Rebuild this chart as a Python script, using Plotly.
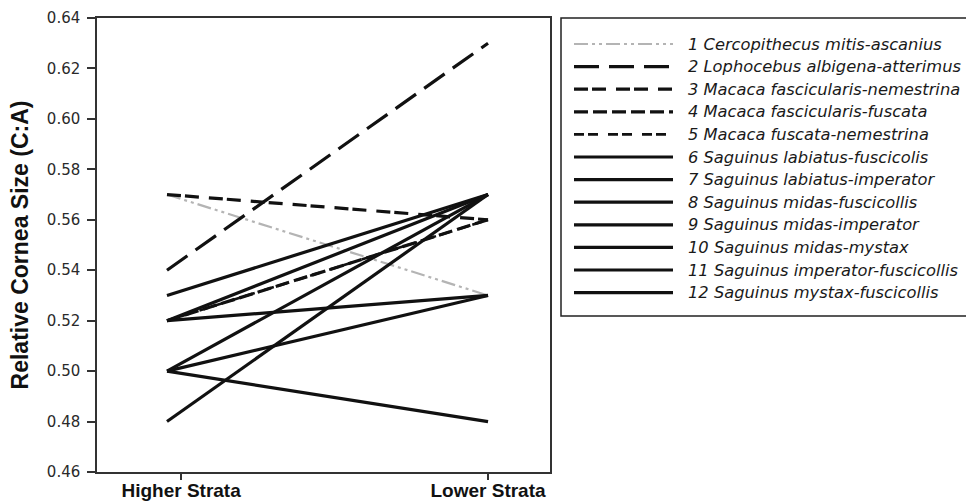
import plotly.graph_objects as go

categories = ["Higher Strata", "Lower Strata"]
names = [
    "1 Cercopithecus mitis-ascanius",
    "2 Lophocebus albigena-atterimus",
    "3 Macaca fascicularis-nemestrina",
    "4 Macaca fascicularis-fuscata",
    "5 Macaca fuscata-nemestrina",
    "6 Saguinus labiatus-fuscicolis",
    "7 Saguinus labiatus-imperator",
    "8 Saguinus midas-fuscicollis",
    "9 Saguinus midas-imperator",
    "10 Saguinus midas-mystax",
    "11 Saguinus imperator-fuscicollis",
    "12 Saguinus mystax-fuscicollis",
]
higher = [0.57, 0.54, 0.57, 0.52, 0.52, 0.53, 0.52, 0.52, 0.50, 0.50, 0.50, 0.48]
lower = [0.53, 0.63, 0.56, 0.56, 0.56, 0.57, 0.57, 0.53, 0.57, 0.53, 0.48, 0.57]
y_ticks = [0.46, 0.48, 0.50, 0.52, 0.54, 0.56, 0.58, 0.60, 0.62, 0.64]

styles = [
    dict(color="#b4b4b4", width=2.2, dash="14px,4px,3px,4px,3px,4px"),
    dict(color="#111111", width=3.2, dash="25px,10px"),
    dict(color="#111111", width=3.2, dash="14px,4px,14px,10px"),
    dict(color="#111111", width=3.2, dash="14px,5px"),
    dict(color="#111111", width=2.6, dash="10px,4px,10px,10px"),
] + [dict(color="#111111", width=3.2, dash="solid") for _ in range(7)]

W, H = 966, 504
L, R, T, B = 97, 0, 18, 32
pw, ph = W - L - R, H - T - B
plot_right = 550
leg_left, leg_bottom = 561, 316
sample_x0, sample_x1 = 574, 673
row0, row_step = 44, 22.6

fig = go.Figure()
xpos = list(range(len(categories)))
for name, h, l, st in zip(names, higher, lower, styles):
    fig.add_trace(go.Scatter(x=xpos, y=[h, l], mode="lines", name=name,
                             line=st, showlegend=False, xaxis="x", yaxis="y"))

# legend drawn on an auxiliary (hidden) axis pair
for i, (name, st) in enumerate(zip(names, styles)):
    fig.add_trace(go.Scatter(x=[0, 1], y=[i, i], mode="lines", line=st,
                             showlegend=False, hoverinfo="skip",
                             xaxis="x2", yaxis="y2"))
    fig.add_annotation(x=1, y=i, xref="x2", yref="y2", text=name,
                       showarrow=False, xanchor="left", yanchor="middle",
                       xshift=13,
                       font=dict(family="DejaVu Sans, sans-serif", size=16.3,
                                 style="italic", color="#1a1a1a"))

y2_top = (T - row0) / row_step
y2_bot = (T + ph - row0) / row_step

fig.add_shape(type="rect", xref="paper", yref="paper",
              x0=(leg_left - L) / pw, x1=1.01,
              y0=1 - (leg_bottom - T) / ph, y1=1.0,
              line=dict(color="#222", width=1.5), fillcolor="rgba(0,0,0,0)",
              layer="below")

fig.update_layout(
    width=W, height=H,
    margin=dict(l=L, r=R, t=T, b=B, autoexpand=False),
    paper_bgcolor="white", plot_bgcolor="white",
    font=dict(family="Liberation Sans, Arial, sans-serif", color="#222"),
    showlegend=False,
    xaxis=dict(
        domain=[0, (plot_right - L) / pw],
        range=[-0.218, 1.193], automargin=False,
        tickvals=[0.044, 1.0], ticktext=categories,
        ticks="outside", ticklen=6, tickwidth=1.5, tickcolor="#333",
        ticklabelstandoff=-6,
        showline=True, linecolor="#333", linewidth=1.5, mirror=True,
        showgrid=False, zeroline=False,
        tickfont=dict(family="Liberation Sans, Arial, sans-serif", size=19,
                      weight="bold", color="#111"),
    ),
    yaxis=dict(
        range=[0.46, 0.64], tickvals=y_ticks, tickformat=".2f",
        automargin=False,
        ticks="outside", ticklen=8, tickwidth=1.5, tickcolor="#333",
        ticklabelstandoff=4,
        showline=True, linecolor="#333", linewidth=1.5, mirror=True,
        showgrid=False, zeroline=False,
        tickfont=dict(family="DejaVu Sans, sans-serif", size=15, color="#2a2a2a"),
        title=dict(text="Relative Cornea Size (C:A)", standoff=12,
                   font=dict(family="Liberation Sans, Arial, sans-serif",
                             size=23, weight="bold", color="#111")),
    ),
    xaxis2=dict(domain=[(sample_x0 - L) / pw, (sample_x1 - L) / pw],
                range=[0, 1], visible=False, anchor="y2", fixedrange=True,
                automargin=False),
    yaxis2=dict(domain=[0, 1], range=[y2_bot, y2_top], visible=False,
                anchor="x2", fixedrange=True, automargin=False),
)
fig.write_html("out.html")
